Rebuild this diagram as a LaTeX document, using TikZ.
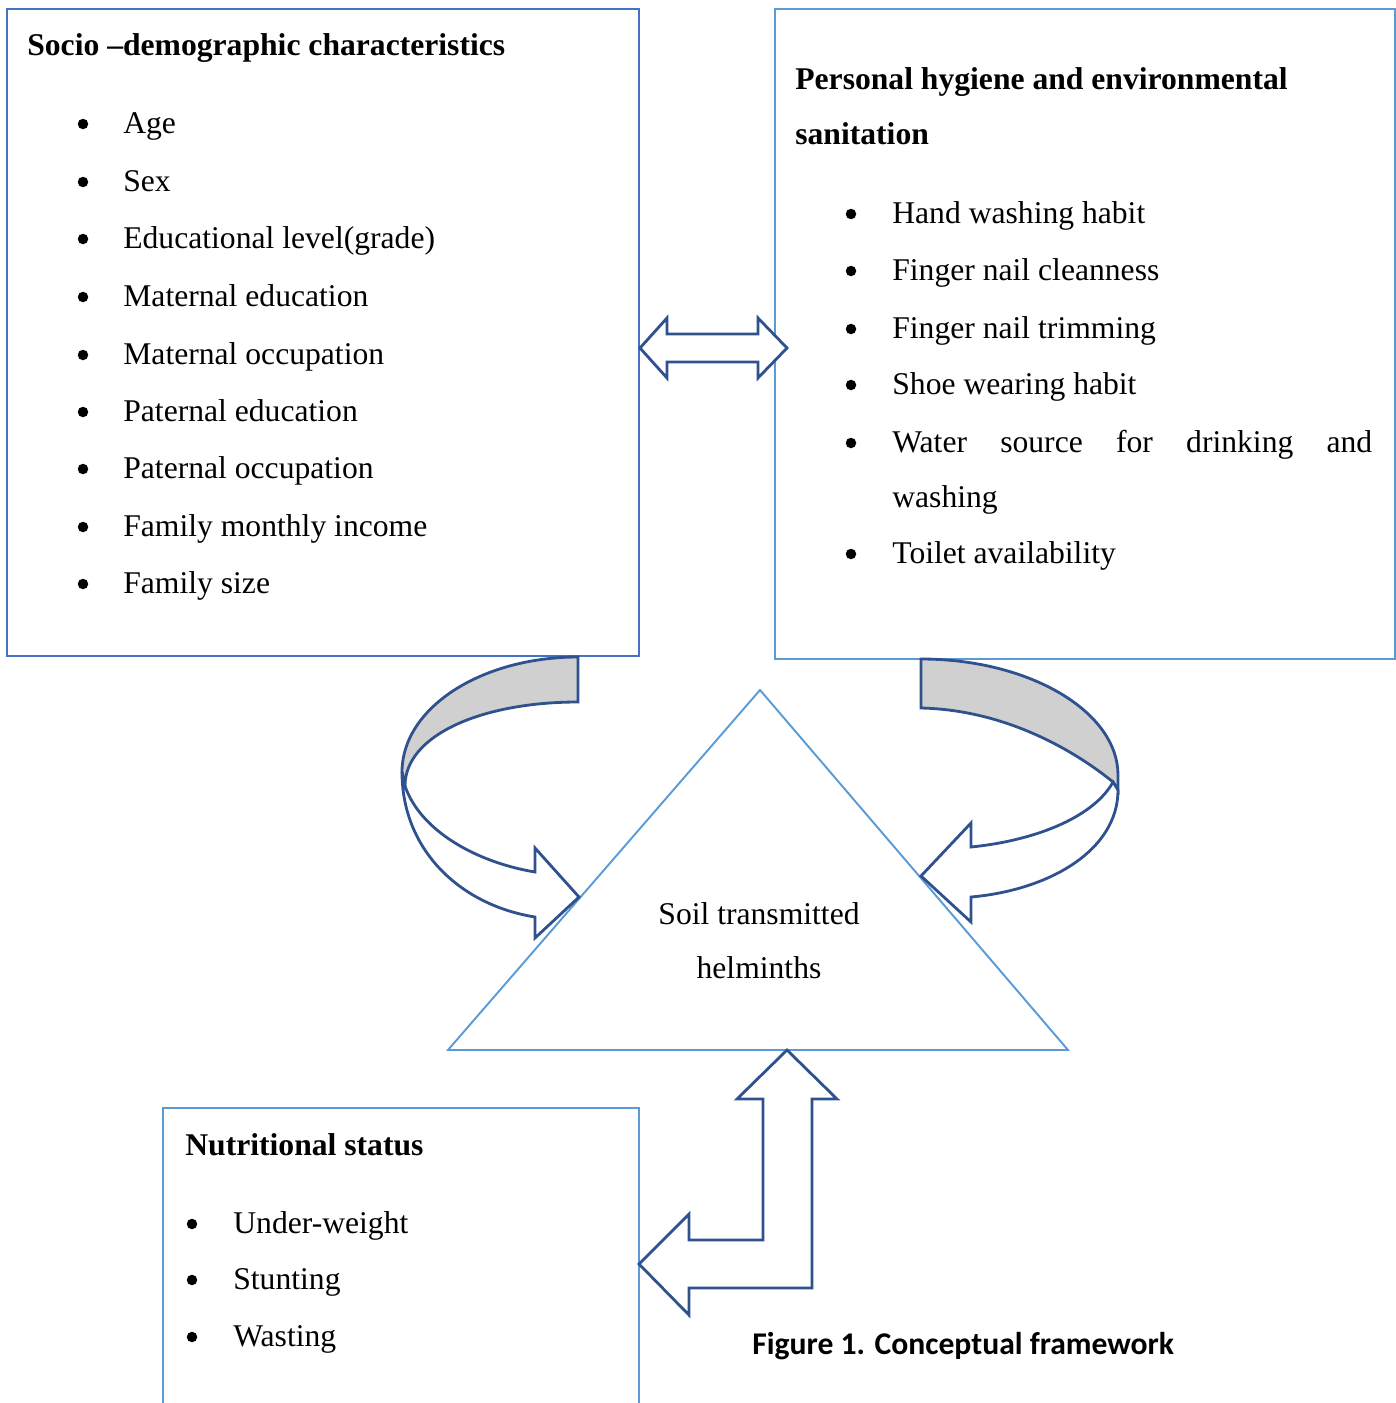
\documentclass[tikz,border=0pt]{standalone}
\usepackage{fontspec}
\setmainfont{Liberation Serif}
\newfontfamily\capfont{Carlito}
\usetikzlibrary{fit}
\definecolor{boxblue}{RGB}{68,114,196}
\definecolor{lineblue}{RGB}{91,155,213}
\definecolor{arrowblue}{RGB}{47,82,143}
\definecolor{bandgray}{RGB}{208,208,208}
\newcommand{\txtsize}{\fontsize{18}{22}\selectfont}

\begin{document}
\begin{tikzpicture}[x=0.02cm,y=-0.02cm,
  box/.style={draw=#1,line width=1.2pt,inner sep=0pt},
  txt/.style={anchor=base west,inner sep=0pt,font=\txtsize},
  head/.style={anchor=base west,inner sep=0pt,font=\txtsize\bfseries},
  bul/.style={circle,fill=black,inner sep=0pt,minimum size=0.21cm},
  blockarrow/.style={draw=arrowblue,line width=1.6pt,fill=white,line join=miter},
  band/.style={blockarrow,fill=bandgray}]
  \useasboundingbox (0,0) rectangle (1396,1403);

  % frames
  \coordinate (s1) at (7,9);
  \coordinate (s2) at (639,656);
  \node[box=boxblue,fit=(s1)(s2)](socio){};
  \coordinate (h1) at (775,9);
  \coordinate (h2) at (1395,659);
  \node[box=lineblue,fit=(h1)(h2)](hyg){};
  \coordinate (n1) at (163,1403);
  \coordinate (n2) at (163,1108);
  \coordinate (n3) at (639,1108);
  \coordinate (n4) at (639,1403);
  \draw[lineblue,line width=1.2pt](n1)--(n2)--(n3)--(n4);
  \coordinate (apex) at (760,690);
  \coordinate (tl) at (448,1050);
  \coordinate (tr) at (1068,1050);
  \draw[lineblue,line width=1.1pt](apex)--(tl)--(tr)--cycle;

  % socio-demographic
  \node[head](sociotitle) at (27,55){Socio –demographic characteristics};
  \foreach \y/\t [count=\i] in {133/Age,191/Sex,248/Educational level(grade),
      306/Maternal education,364/Maternal occupation,421/Paternal education,
      478/Paternal occupation,536/Family monthly income,593/Family size}{
    \node[bul](sb\i) at (83,{\y-9}){};
    \node[txt](si\i) at (123,\y){\t};
  }

  % hygiene
  \node[head](hygtitle1) at (795,89){Personal hygiene and environmental};
  \node[head](hygtitle2) at (795,144){sanitation};
  \foreach \y/\t [count=\i] in {223/Hand washing habit,280/Finger nail cleanness,
      338/Finger nail trimming,394/Shoe wearing habit,
      452/\makebox[9.6cm][s]{Water source for drinking and},
      563/Toilet availability}{
    \node[bul](hb\i) at (851,{\y-9}){};
    \node[txt](hi\i) at (892,\y){\t};
  }
  \node[txt](hi5b) at (892,507){washing};

  % nutrition
  \node[head](nuttitle) at (185,1155){Nutritional status};
  \foreach \y/\t [count=\i] in {1233/Under-weight,1289/Stunting,1346/Wasting}{
    \node[bul](nb\i) at (192,{\y-9}){};
    \node[txt](ni\i) at (233,\y){\t};
  }

  % triangle label
  \node[anchor=base,inner sep=0pt,font=\txtsize](sth1) at (759,924){Soil transmitted};
  \node[anchor=base,inner sep=0pt,font=\txtsize](sth2) at (759,978){helminths};

  % double arrow
  \draw[blockarrow](640,348)--(667,318)--(667,334)--(758,334)--(758,318)--(787,348)
    --(758,378)--(758,362)--(667,362)--(667,378)--cycle;

  % left curved arrow
  \draw[band](578,657) .. controls (481,657) and (402,708) .. (402,772)
    -- (405,786) .. controls (405,735) and (482,702) .. (578,702) -- cycle;
  \draw[blockarrow](402,772) .. controls (402,850) and (460,905) .. (535,917)
    -- (535,938) -- (579,897) -- (535,848) -- (535,872)
    .. controls (475,862) and (420,830) .. (405,786) -- cycle;

  % right curved arrow
  \draw[band](921,659) .. controls (1030,659) and (1118,712) .. (1118,775)
    -- (1118,790) -- (1113,782) .. controls (1080,755) and (1010,710) .. (921,708) -- cycle;
  \draw[blockarrow](1118,790) .. controls (1118,850) and (1050,890) .. (971,897)
    -- (971,922) -- (921,876) -- (971,823) -- (971,847)
    .. controls (1040,840) and (1095,815) .. (1113,782) -- cycle;

  % bent arrow
  \draw[blockarrow](787,1050)--(837,1099)--(812,1099)--(812,1288)--(689,1288)
    --(689,1315)--(639,1264)--(689,1214)--(689,1240)--(763,1240)--(763,1099)
    --(737,1099)--cycle;

  % caption
  \node[anchor=base west,inner sep=0pt,font=\capfont\bfseries\txtsize](cap) at (752,1354)
    {Figure 1. Conceptual framework};
\end{tikzpicture}
\end{document}
